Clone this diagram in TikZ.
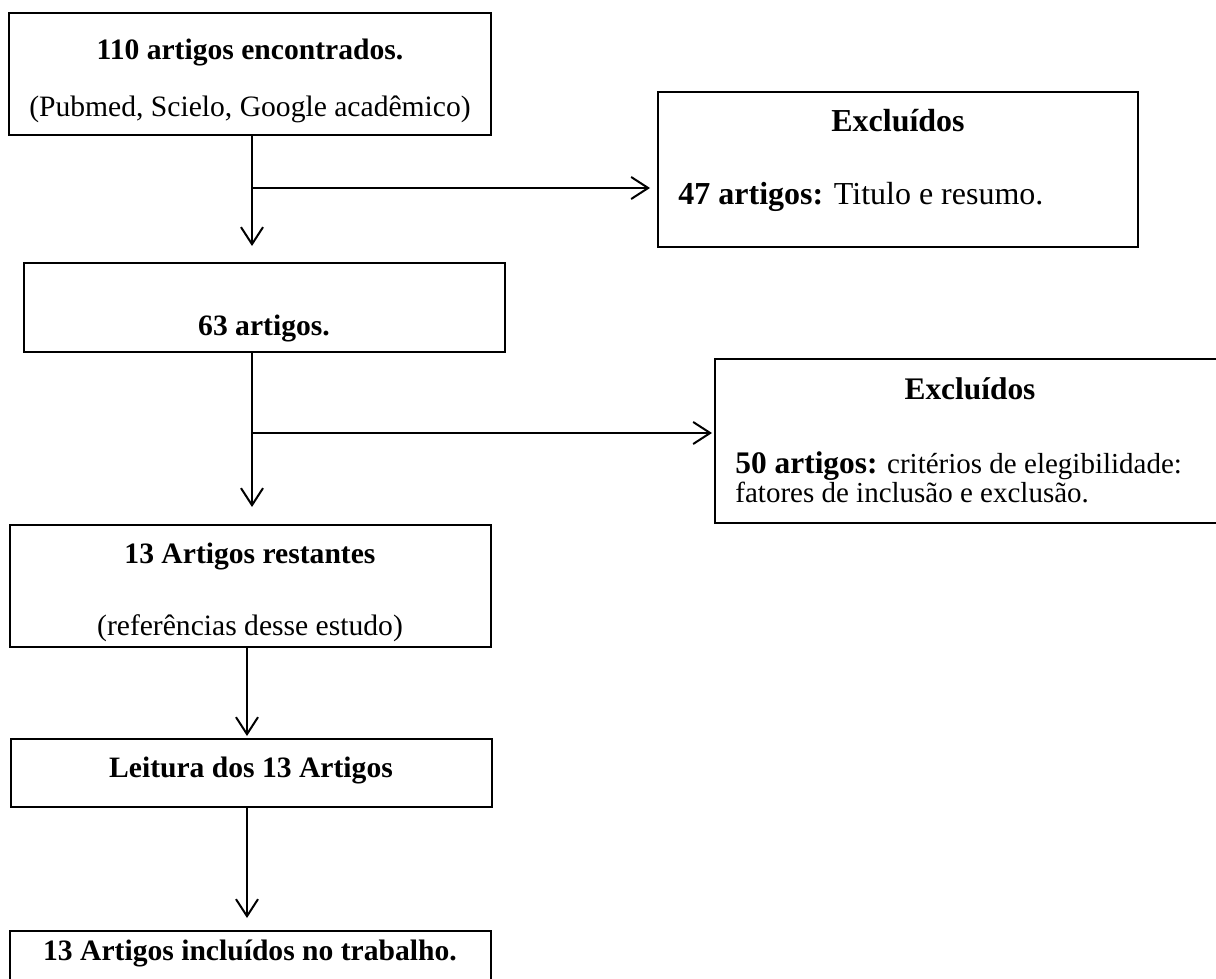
\documentclass[tikz,border=0pt]{standalone}
\usepackage{fontspec}
\setmainfont{Liberation Serif}
\usetikzlibrary{arrows.meta}

\tikzset{
  box/.style={draw=black, line width=1pt, inner sep=0pt},
  txt/.style={font=\fontsize{14.8}{17}\selectfont, inner sep=0pt, anchor=base},
  txtl/.style={txt, anchor=base west},
  big/.style={font=\fontsize{16}{19}\selectfont},
  flow/.style={line width=1pt, -{Straight Barb[length=8.5pt,width=11pt,line width=1pt]}}
}

\begin{document}
\begin{tikzpicture}[x=0.5pt, y=-0.5pt]
\useasboundingbox (0,0) rectangle (1216,979);
\clip (0,0) rectangle (1216,979);
\node[box, minimum width=241pt, minimum height=61pt] (found) at (250,74) {};
\node[box, minimum width=240pt, minimum height=77.5pt] (excla) at (898,169.5) {};
\node[box, minimum width=240.5pt, minimum height=44.5pt] (remain) at (264.5,307.5) {};
\node[box, minimum width=255pt, minimum height=82pt] (exclb) at (970,441) {};
\node[box, minimum width=240.5pt, minimum height=61pt] (rest) at (250.5,586) {};
\node[box, minimum width=240.5pt, minimum height=34pt] (read) at (251.5,773) {};
\node[box, minimum width=240.5pt, minimum height=39.5pt] (incl) at (250.5,970.5) {};

\node[txt] (founda) at (250,60) {\bfseries 110 artigos encontrados.};
\node[txt] (foundb) at (250,117) {(Pubmed, Scielo, Google acadêmico)};
\node[txt, big] (exclat) at (898,132) {\bfseries Excluídos};
\node[txtl, big] (exclab) at (678,205) {\textbf{47 artigos:} Titulo e resumo.};
\node[txt] (remaina) at (264,335) {\bfseries 63 artigos.};
\node[txt, font=\fontsize{15.7}{18}\selectfont] (exclbt) at (970,399) {\bfseries Excluídos};
\node[txtl, font=\fontsize{14.5}{17}\selectfont] (exclbb) at (735,473) {\textbf{\fontsize{15.7}{18}\selectfont 50 artigos:} critérios de elegibilidade:};
\node[txtl, font=\fontsize{14.5}{17}\selectfont] (exclbc) at (735,502) {fatores de inclusão e exclusão.};
\node[txt] (resta) at (250,563) {\bfseries 13 Artigos restantes};
\node[txt] (restb) at (250,635) {(referências desse estudo)};
\node[txt] (reada) at (251,777) {\bfseries Leitura dos 13 Artigos};
\node[txt] (incla) at (250,960) {\bfseries 13 Artigos incluídos no trabalho.};

\coordinate (splita) at (252,188);
\coordinate (splitb) at (252,433);
\coordinate (splitc) at (247,700);

\draw[flow, shorten >=8pt] (found.south -| splita) -- (remain.north -| splita);
\draw[flow, shorten >=3.5pt] (splita) -- (excla.west |- splita);
\draw[flow, shorten >=8.5pt] (remain.south -| splitb) -- (rest.north -| splitb);
\draw[flow, shorten >=1pt] (splitb) -- (exclb.west |- splitb);
\draw[flow, shorten >=1pt] (rest.south -| splitc) -- (read.north -| splitc);
\draw[flow, shorten >=6pt] (read.south -| splitc) -- (incl.north -| splitc);
\end{tikzpicture}
\end{document}
